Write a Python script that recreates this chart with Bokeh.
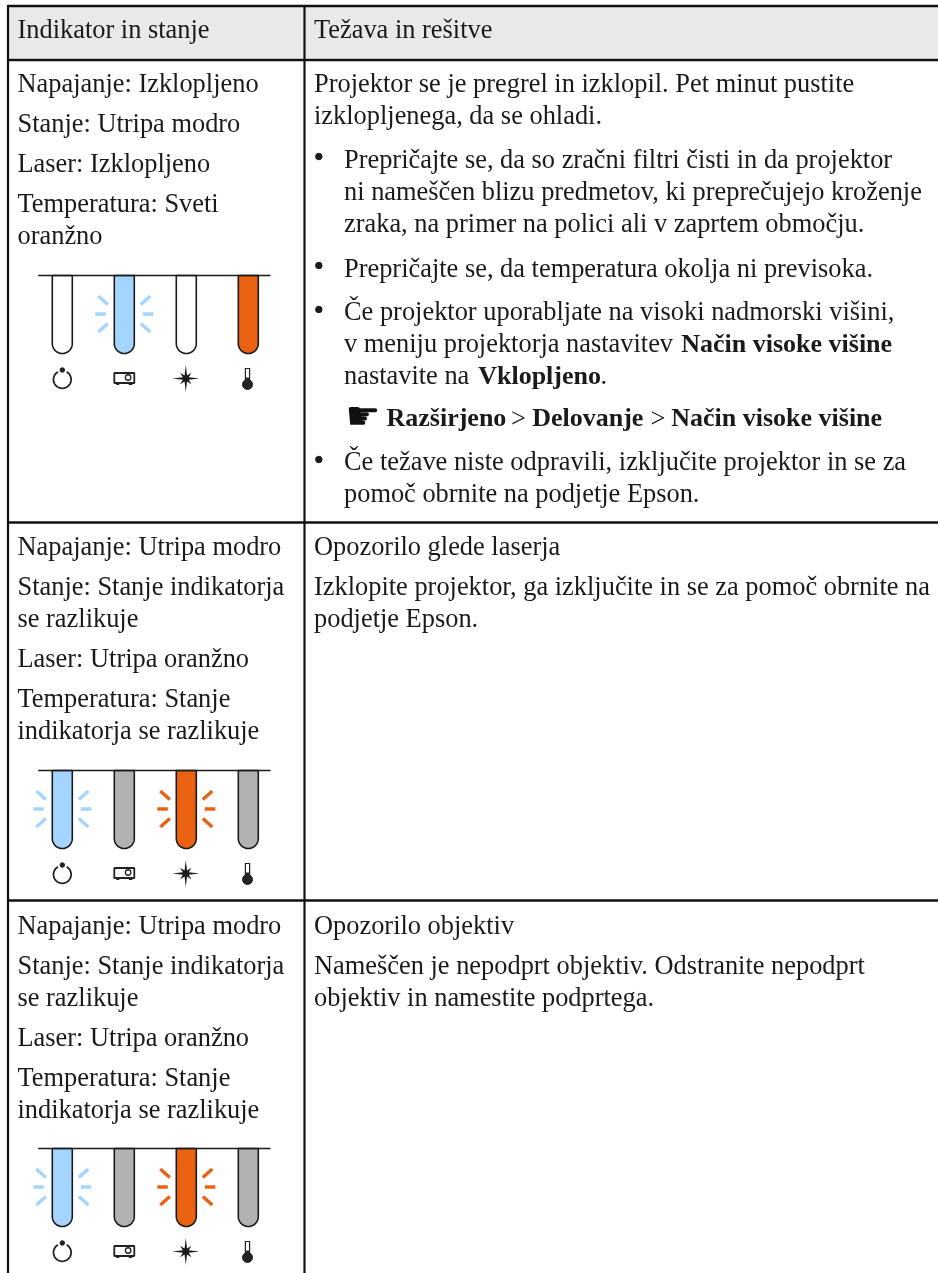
from bokeh.plotting import figure
from bokeh.models import Range1d
from bokeh.core.properties import value
from bokeh.embed import file_html
from bokeh.resources import INLINE
import numpy as np

HEADERS = ["Indikator in stanje", "Težava in rešitve"]
# Left column: text lines per row
ROW1_LEFT = ["Napajanje: Izklopljeno", "Stanje: Utripa modro", "Laser: Izklopljeno", "Temperatura: Sveti", "oranžno"]
ROW2_LEFT = ["Napajanje: Utripa modro", "Stanje: Stanje indikatorja", "se razlikuje", "Laser: Utripa oranžno", "Temperatura: Stanje", "indikatorja se razlikuje"]
ROW3_LEFT = ROW2_LEFT
ROW1_BASE = [90.7, 130.7, 170.7, 210.7, 242.7]
ROW2_BASE = [553, 593, 625, 665, 705, 737]
ROW3_BASE = [932, 972, 1004, 1044, 1084, 1116]
# LED states: fill, flashing flag
OFF, BLUE, ORANGE, GRAY = "#ffffff", "#a3d5ff", "#ea6211", "#b2b2b2"
ROW1_LED = [(OFF, False), (BLUE, True), (OFF, False), (ORANGE, False)]
ROW2_LED = [(BLUE, True), (GRAY, False), (ORANGE, True), (GRAY, False)]
ROW3_LED = ROW2_LED
LED_TOPS = [275, 770, 1148]

COL2 = 313.5
IND = 343.5
RIGHT_PLAIN = [
    ("Projektor se je pregrel in izklopil. Pet minut pustite", COL2, 90.7),
    ("izklopljenega, da se ohladi.", COL2, 122.7),
    ("Prepričajte se, da so zračni filtri čisti in da projektor", IND, 166.7),
    ("ni nameščen blizu predmetov, ki preprečujejo kroženje", IND, 198.7),
    ("zraka, na primer na polici ali v zaprtem območju.", IND, 230.7),
    ("Prepričajte se, da temperatura okolja ni previsoka.", IND, 275),
    ("Če projektor uporabljate na visoki nadmorski višini,", IND, 318.3),
    ("v meniju projektorja nastavitev", IND, 350.7),
    ("nastavite na", IND, 382.7),
    ("Če težave niste odpravili, izključite projektor in se za", IND, 468.3),
    ("pomoč obrnite na podjetje Epson.", IND, 500.5),
    ("Opozorilo glede laserja", COL2, 553),
    ("Izklopite projektor, ga izključite in se za pomoč obrnite na", COL2, 593),
    ("podjetje Epson.", COL2, 625),
    ("Opozorilo objektiv", COL2, 932),
    ("Nameščen je nepodprt objektiv. Odstranite nepodprt", COL2, 972),
    ("objektiv in namestite podprtega.", COL2, 1004),
]
RIGHT_BOLD = [
    ("Način visoke višine", 680.7, 350.7),
    ("Vklopljeno", 477.7, 382.7),
    ("Razširjeno", 386, 425),
    ("Delovanje", 531.7, 425),
    ("Način visoke višine", 670.7, 425),
]
RIGHT_PUNCT = [(".", 600, 382.7), (">", 510.5, 425), (">", 650, 425)]
BULLET_Y = [156, 265, 309, 459]

FS = "26.4px"
FS_BOLD = "26px"
FONT = value("Liberation Serif")
INK = "#1a1a1a"
TEXT_SHIFT = -8
W, H = 938, 1273

p = figure(width=W, height=H, x_range=Range1d(0, W), y_range=Range1d(H, 0),
           output_backend="svg", toolbar_location=None, min_border=0,
           outline_line_color=None)
p.styles = {"position": "fixed", "left": "0px", "top": "0px"}
p.axis.visible = False
p.grid.visible = False

# table frame
p.quad(left=[8], right=[W], top=[6], bottom=[58], fill_color="#e9e9e9", line_color=None)
for y in [5.5, 59.5, 522, 900]:
    p.line([7, W], [y, y], line_color="#111111", line_width=2.5)
for x in [7.5, 304]:
    p.line([x, x], [4.5, H], line_color="#111111", line_width=2.2)


def txt(items, style="normal", size=FS, font=FONT, color=INK):
    p.text(x=[i[1] for i in items], y=[i[2] + TEXT_SHIFT for i in items], text=[i[0] for i in items],
           text_font=font, text_font_size=size, text_font_style=style, text_color=color,
           text_baseline="alphabetic", text_align="left")


txt([(HEADERS[0], 17, 36.7), (HEADERS[1], COL2, 36.7)])
for lines, bases in [(ROW1_LEFT, ROW1_BASE), (ROW2_LEFT, ROW2_BASE), (ROW3_LEFT, ROW3_BASE)]:
    txt([(t, 17, b) for t, b in zip(lines, bases)])
txt(RIGHT_PLAIN)
txt(RIGHT_PUNCT)
txt(RIGHT_BOLD, style="bold", size=FS_BOLD)
p.scatter([318.3] * len(BULLET_Y), BULLET_Y, size=6.5, marker="circle", color=INK)
p.text(x=[345], y=[415], text=["\u261b"], text_font=value("DejaVu Sans"), text_font_size="39px",
       text_color="#111111", text_baseline="alphabetic")

TUBE_X = [61.8, 123.8, 185.8, 247.8]
LINE_L, LINE_R = 37.7, 270
TUBE_H, R = 78, 10
ICON_X = TUBE_X


def tube_shape(cx, top):
    t = np.linspace(np.pi, 0, 30)
    xs = [cx - R] + list(cx + R * np.cos(t)) + [cx + R]
    ys = [top] + list(top + TUBE_H - R + R * np.sin(t)) + [top]
    return xs, ys


def rays(cx, cy, color):
    segs = [((-29, 0), (-18.5, 0)), ((18.5, 0), (29, 0)),
            ((-26, -18), (-16.5, -9.5)), ((26, -18), (16.5, -9.5)),
            ((-26, 18), (-16.5, 9.5)), ((26, 18), (16.5, 9.5))]
    p.multi_line([[cx + a[0], cx + b[0]] for a, b in segs],
                 [[cy + a[1], cy + b[1]] for a, b in segs], line_color=color, line_width=3.4)


def icons(top):
    # power
    cx = ICON_X[0]; cy = top + 104
    t = np.linspace(np.radians(-60), np.radians(240), 50)
    p.line(list(cx + 8.8 * np.cos(t)), list(cy + 8.8 * np.sin(t)), line_color="#222222", line_width=1.8)
    p.scatter([cx], [top + 94.5], size=4.5, marker="circle", color="#222222")
    # projector
    cx = ICON_X[1]
    p.quad(left=[cx - 10], right=[cx + 10], top=[top + 97.5], bottom=[top + 107.5], fill_color="#ffffff",
           line_color="#222222", line_width=1.8)
    p.scatter([cx + 3.8], [top + 102], size=5.5, marker="circle", fill_color="#ffffff",
              line_color="#222222", line_width=1.3)
    p.quad(left=[cx - 8, cx + 4.5], right=[cx - 5, cx + 8], top=[top + 107.5] * 2, bottom=[top + 109.5] * 2,
           fill_color="#222222", line_color=None)
    # star
    cx = ICON_X[2] - 0.5; cy = top + 103
    ang = np.radians(np.arange(0, 360, 22.5))
    rad = np.array([13.5, 3.2, 8, 3.2] * 4)
    p.patch(list(cx + rad * np.cos(ang)), list(cy + rad * np.sin(ang)), fill_color="#1a1a1a", line_color=None)
    # thermometer
    cx = ICON_X[3] - 0.8
    p.quad(left=[cx - 2.7], right=[cx + 2.7], top=[top + 92.5], bottom=[top + 108], fill_color="#222222", line_color=None)
    p.quad(left=[cx - 1.5], right=[cx + 1.5], top=[top + 93.5], bottom=[top + 102], fill_color="#ffffff", line_color=None)
    p.scatter([cx], [top + 109], size=10, marker="circle", color="#222222")


for leds, top in zip([ROW1_LED, ROW2_LED, ROW3_LED], LED_TOPS):
    for cx, (fill, flash) in zip(TUBE_X, leds):
        xs, ys = tube_shape(cx, top)
        p.patch(xs, ys, fill_color=fill, line_color="#1a1a1a", line_width=1.6)
        if flash:
            rays(cx, top + 38.5, fill)
    p.line([LINE_L, LINE_R], [top, top], line_color="#1a1a1a", line_width=1.6)
    icons(top)

open("out.html", "w").write(file_html(p, INLINE))
